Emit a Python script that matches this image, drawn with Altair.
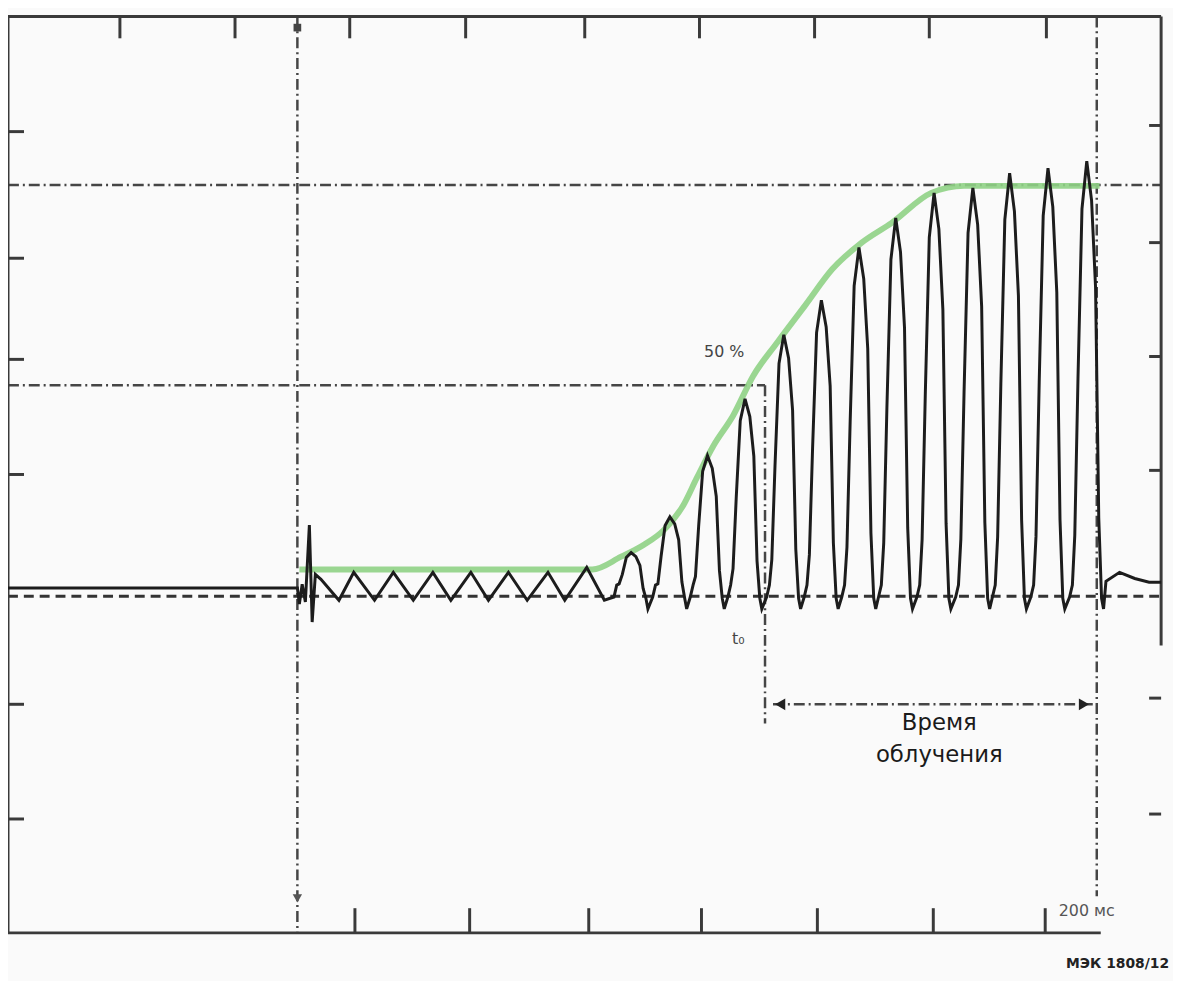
import altair as alt
import pandas as pd

# ---- scales: time in ms (0 = trigger), level in % (0 = baseline, 100 = full level)
X_DOMAIN = [-72.4, 216.1]
Y_DOMAIN = [-81.9, 141.0]

# ---- black oscillogram trace
PRE_MS = [-72.4, 0.0, 0.5, 1.2, 2.0, 3.0, 3.7, 4.5, 5.9]
PRE_PCT = [2.0, 2.0, -1.9, 2.9, -1.4, 17.3, -6.3, 5.3, 4.1]

OSC_MS = [10.4, 14.1, 19.3, 24.0, 29.0, 33.9, 38.4, 43.4, 47.8, 52.8, 57.5, 62.7, 66.9, 72.4, 76.8]
OSC_PCT = [-1.0, 5.8, -1.0, 5.8, -1.0, 5.8, -1.0, 5.8, -1.0, 5.8, -1.0, 5.8, -1.0, 7.0, -1.0]

SPIKES_MS = [
    [79.2, 79.9, 80.5, 81.3, 82.3, 83.5, 84.7, 85.7, 86.5, 87.2, 87.7],
    [88.9, 89.6, 90.2, 91.0, 92.0, 93.2, 94.4, 95.4, 96.2, 96.9, 97.4],
    [98.3, 99.0, 99.6, 100.4, 101.4, 102.6, 103.8, 104.8, 105.6, 106.3, 106.8],
    [107.7, 108.4, 109.0, 109.8, 110.8, 112.0, 113.2, 114.2, 115.0, 115.7, 116.2],
    [117.4, 118.1, 118.7, 119.5, 120.5, 121.7, 122.9, 123.9, 124.7, 125.4, 125.9],
    [126.8, 127.5, 128.1, 128.9, 129.9, 131.1, 132.3, 133.3, 134.1, 134.8, 135.3],
    [136.2, 136.9, 137.5, 138.3, 139.3, 140.5, 141.7, 142.7, 143.5, 144.2, 144.7],
    [145.4, 146.1, 146.7, 147.5, 148.5, 149.7, 150.9, 151.9, 152.7, 153.4, 153.9],
    [155.0, 155.7, 156.3, 157.1, 158.1, 159.3, 160.5, 161.5, 162.3, 163.0, 163.5],
    [164.7, 165.4, 166.0, 166.8, 167.8, 169.0, 170.2, 171.2, 172.0, 172.7, 173.2],
    [173.9, 174.6, 175.2, 176.0, 177.0, 178.2, 179.4, 180.4, 181.2, 181.9, 182.4],
    [183.5, 184.2, 184.8, 185.6, 186.6, 187.8, 189.0, 190.0, 190.8, 191.5, 192.0],
    [193.2, 193.9, 194.5, 195.3, 196.3, 197.5, 198.7, 199.7, 200.5, 201.2, 201.7],
]
SPIKES_PCT = [
    [-0.2, 2.7, 3.0, 5.3, 9.4, 10.6, 9.6, 7.5, 1.9, -0.5, -3.1],
    [-0.2, 2.7, 3.0, 9.7, 17.2, 19.3, 17.6, 13.7, 3.5, -0.5, -3.1],
    [-0.2, 2.7, 4.8, 17.1, 30.4, 34.2, 31.1, 24.3, 6.2, -0.5, -3.1],
    [-0.2, 2.7, 6.7, 24.0, 42.7, 48.0, 43.7, 34.1, 8.6, -0.5, -3.1],
    [-0.2, 2.7, 8.9, 31.8, 56.6, 63.6, 57.9, 45.2, 11.4, -0.5, -3.1],
    [-0.2, 2.7, 10.1, 36.0, 64.1, 72.0, 65.5, 51.1, 13.0, -0.5, -3.1],
    [-0.2, 2.7, 11.9, 42.4, 75.5, 84.8, 77.2, 60.2, 15.3, -0.5, -3.1],
    [-0.2, 2.7, 12.9, 46.0, 81.9, 92.0, 83.7, 65.3, 16.6, -0.5, -3.1],
    [-0.2, 2.7, 13.7, 49.1, 87.3, 98.1, 89.3, 69.7, 17.7, -0.5, -3.1],
    [-0.2, 2.7, 13.9, 49.7, 88.4, 99.3, 90.4, 70.5, 17.9, -0.5, -3.1],
    [-0.2, 2.7, 14.4, 51.5, 91.6, 102.9, 93.6, 73.1, 18.5, -0.5, -3.1],
    [-0.2, 2.7, 14.6, 52.1, 92.6, 104.1, 94.7, 73.9, 18.7, -0.5, -3.1],
    [-0.2, 2.7, 14.8, 52.9, 94.2, 105.8, 96.3, 75.1, 19.0, -0.5, -3.1],
]
TAIL_MS = [202.3, 205.7, 209.5, 213.1, 216.1]
TAIL_PCT = [3.6, 5.8, 4.3, 3.4, 3.4]

# ---- green envelope
ENV_MS = [0.5, 73.8, 81.0, 86.7, 91.7, 96.6, 99.9, 104.1, 109.0, 114.0, 120.2,
          127.1, 133.8, 141.2, 148.7, 158.6, 166.8, 200.7]
ENV_PCT = [6.5, 6.5, 9.6, 12.5, 16.1, 22.2, 28.7, 36.6, 43.9, 53.5, 61.9,
           70.8, 79.5, 86.0, 90.8, 98.1, 99.8, 99.8]

# ---- graticule ticks
TOP_TICKS = [-44.4, -15.6, 13.1, 42.1, 71.9, 100.6, 129.4, 158.1, 187.4]
BOTTOM_TICKS = [14.4, 43.1, 72.9, 101.1, 130.1, 159.1, 187.1]
LEFT_TICKS = [113.0, 82.2, 57.6, 29.6, -26.3, -54.2]
RIGHT_TICKS = [114.5, 86.0, 58.3, 30.6, -24.8, -53.0]

# ---- reference levels / markers
LEVEL_FULL = 100.0
LEVEL_HALF = 51.3
T0_MS = 117.0
END_MS = 200.0
ARROW_PCT = -26.3

# ---- labels
LABELS_SMALL = ["50 %", "t\u2080"]
LABELS_SMALL_MS = [106.8, 110.3]
LABELS_SMALL_PCT = [59.5, -10.4]
LABELS_BIG = ["Время", "облучения"]
LABELS_BIG_MS = [160.6, 160.6]
LABELS_BIG_PCT = [-30.9, -38.6]
UNIT_LABEL = "200 мс"
FIG_LABEL = "МЭК 1808/12"

XS = alt.Scale(domain=X_DOMAIN, nice=False, zero=False)
YS = alt.Scale(domain=Y_DOMAIN, nice=False, zero=False)

# trace table
tr_ms = PRE_MS + OSC_MS
tr_pct = PRE_PCT + OSC_PCT
for a, b in zip(SPIKES_MS, SPIKES_PCT):
    tr_ms += a
    tr_pct += b
tr_ms += TAIL_MS
tr_pct += TAIL_PCT
trace_df = pd.DataFrame({"ms": tr_ms, "pct": tr_pct, "i": range(len(tr_ms))})
env_df = pd.DataFrame({"ms": ENV_MS, "pct": ENV_PCT, "i": range(len(ENV_MS))})

x0, x1 = X_DOMAIN
y0, y1 = Y_DOMAIN
TOP_LEN, BOT_LEN, LEFT_LEN, RIGHT_LEN = 5.3, 6.0, 4.0, 3.0

solid_rows = [
    (x0, x1, y1, y1),          # top
    (x0, x0, y1, y0),          # left
    (x0, 201.0, y0, y0),       # bottom
    (x1, x1, y1, -12.0),       # right
]
solid_rows += [(t, t, y1, y1 - TOP_LEN) for t in TOP_TICKS]
solid_rows += [(t, t, y0, y0 + BOT_LEN) for t in BOTTOM_TICKS]
solid_rows += [(x0, x0 + LEFT_LEN, t, t) for t in LEFT_TICKS]
solid_rows += [(x1, x1 - RIGHT_LEN, t, t) for t in RIGHT_TICKS]
solid_df = pd.DataFrame(solid_rows, columns=["x1", "x2", "y1", "y2"])

dd_rows = [
    (x0, x1, LEVEL_FULL, LEVEL_FULL),
    (x0, T0_MS, LEVEL_HALF, LEVEL_HALF),
    (0.0, 0.0, y1, y0),
    (END_MS, END_MS, y1, -73.0),
    (T0_MS, T0_MS, LEVEL_HALF, -31.0),
    (T0_MS + 2.0, END_MS - 1.0, ARROW_PCT, ARROW_PCT),
]
dd_df = pd.DataFrame(dd_rows, columns=["x1", "x2", "y1", "y2"])
base_df = pd.DataFrame([(x0, x1, 0.0, 0.0)], columns=["x1", "x2", "y1", "y2"])


def seg_enc(ch):
    return ch.encode(
        x=alt.X("x1:Q", scale=XS, axis=None),
        x2="x2:Q",
        y=alt.Y("y1:Q", scale=YS, axis=None),
        y2="y2:Q",
    )


solid = seg_enc(alt.Chart(solid_df).mark_rule(color="#3a3a3a", strokeWidth=3))
dashdot = seg_enc(alt.Chart(dd_df).mark_rule(color="#454545", strokeWidth=2.5,
                                               strokeDash=[11, 4, 2, 4]))
baseline = seg_enc(alt.Chart(base_df).mark_rule(color="#333333", strokeWidth=3,
                                                  strokeDash=[10, 6]))

envelope = alt.Chart(env_df).mark_line(color="#8fd185", strokeWidth=6, opacity=0.9,
                                       interpolate="monotone").encode(
    x=alt.X("ms:Q", scale=XS, axis=None),
    y=alt.Y("pct:Q", scale=YS, axis=None),
    order="i:Q",
)
trace = alt.Chart(trace_df).mark_line(color="#1c1c1c", strokeWidth=3,
                                      strokeJoin="miter").encode(
    x=alt.X("ms:Q", scale=XS, axis=None),
    y=alt.Y("pct:Q", scale=YS, axis=None),
    order="i:Q",
)


def point_layer(ms, pct, shape, size, color):
    df = pd.DataFrame({"ms": [ms], "pct": [pct]})
    return alt.Chart(df).mark_point(shape=shape, size=size, filled=True, opacity=1,
                                    color=color).encode(
        x=alt.X("ms:Q", scale=XS, axis=None),
        y=alt.Y("pct:Q", scale=YS, axis=None),
    )


arrow_l = point_layer(T0_MS + 3.8, ARROW_PCT, "triangle-left", 140, "#222222")
arrow_r = point_layer(END_MS - 3.2, ARROW_PCT, "triangle-right", 140, "#222222")
trig_bot = point_layer(0.0, -73.5, "triangle-down", 90, "#555555")
trig_top = point_layer(0.0, 138.3, "square", 60, "#444444")


def text_layer(texts, ms, pct, **kw):
    df = pd.DataFrame({"t": texts, "ms": ms, "pct": pct})
    return alt.Chart(df).mark_text(baseline="middle", **kw).encode(
        x=alt.X("ms:Q", scale=XS, axis=None),
        y=alt.Y("pct:Q", scale=YS, axis=None),
        text="t:N",
    )


small_txt = text_layer(LABELS_SMALL, LABELS_SMALL_MS, LABELS_SMALL_PCT,
                       font="DejaVu Sans", fontSize=16, color="#444444", align="center")
big_txt = text_layer(LABELS_BIG, LABELS_BIG_MS, LABELS_BIG_PCT,
                     font="DejaVu Sans", fontSize=23, color="#1a1a1a", align="center")
unit_txt = text_layer([UNIT_LABEL], [190.5], [-76.6],
                      font="DejaVu Sans", fontSize=16, color="#555555", align="left")
fig_txt = text_layer([FIG_LABEL], [218.1], [-89.4],
                     font="DejaVu Sans", fontSize=14, fontWeight="bold",
                     color="#222222", align="right")

chart = alt.layer(
    baseline, dashdot, solid, envelope, trace,
    arrow_l, arrow_r, trig_bot, trig_top,
    small_txt, big_txt, unit_txt, fig_txt,
).properties(
    width=1164,
    height=925,
    padding={"left": 0, "top": 4, "right": 12, "bottom": 44},
    autosize=alt.AutoSizeParams(type="none"),
    background="#fafafa",
).configure_view(strokeWidth=0)

chart.save("out.html", embed_options={"renderer": "svg", "actions": False})
